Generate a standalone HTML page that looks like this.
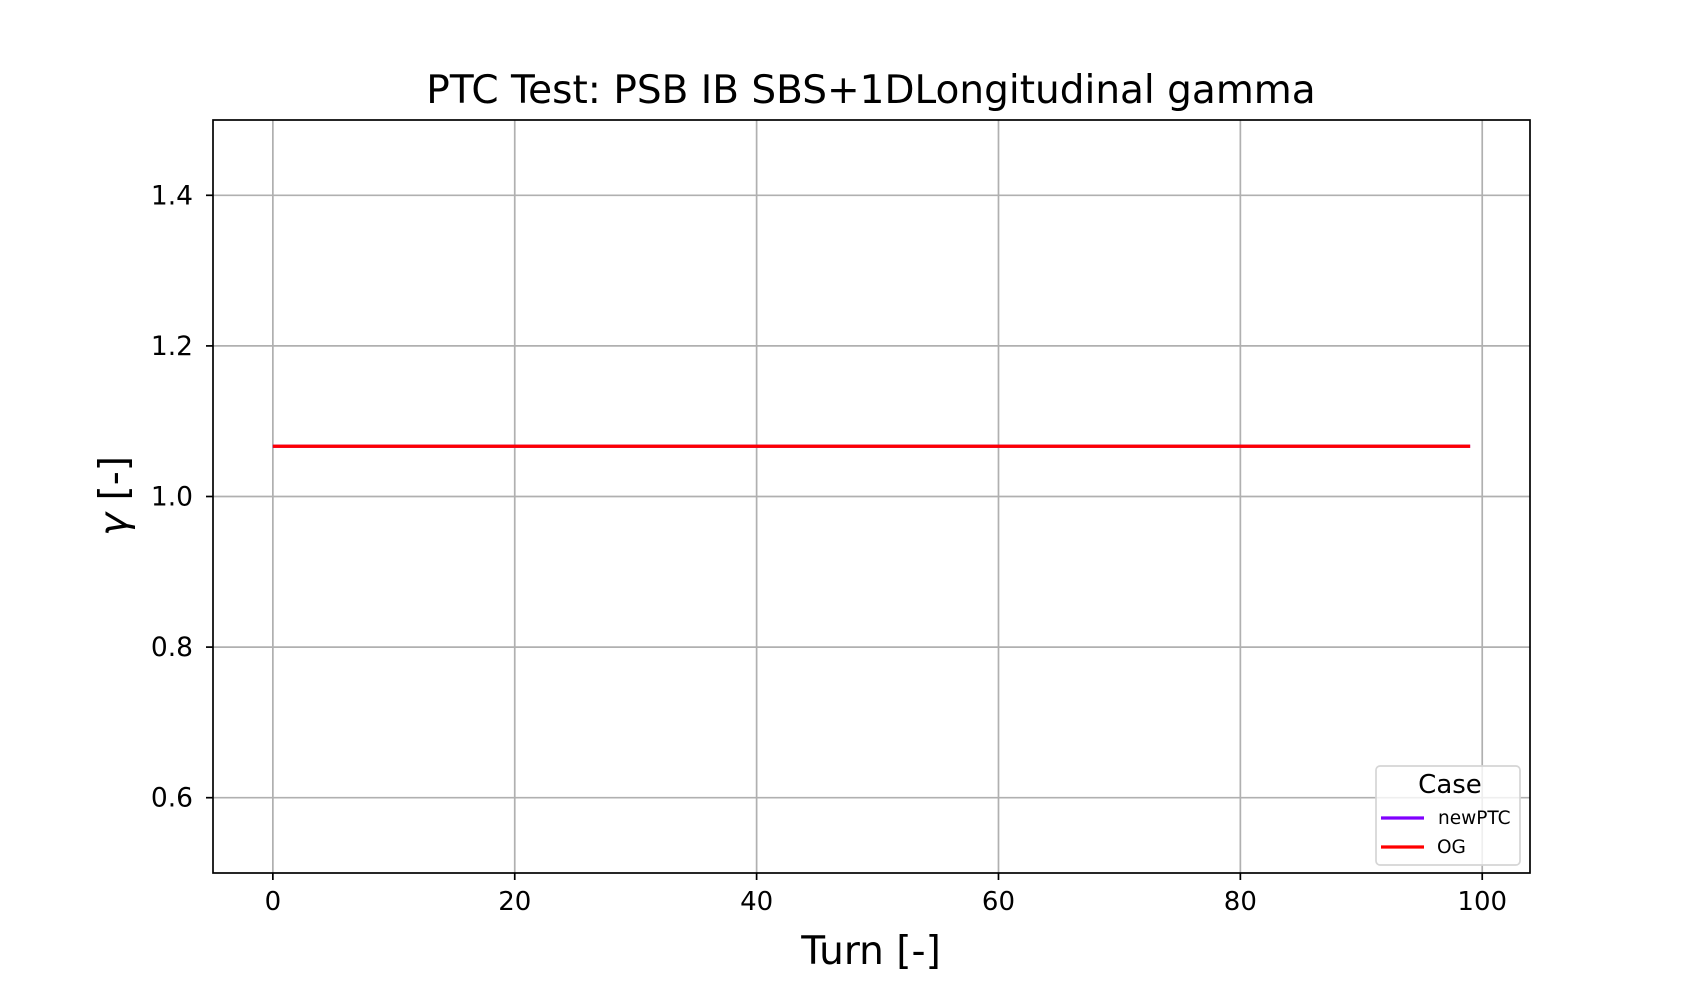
<!DOCTYPE html>
<html><head><meta charset="utf-8"><style>
html,body{margin:0;padding:0;background:#fff;width:1700px;height:1000px;overflow:hidden}
text{font-family:"DejaVu Sans","Liberation Sans",sans-serif}
</style></head><body>
<svg id="chart" width="1700" height="1000" xmlns="http://www.w3.org/2000/svg">
<rect width="1700" height="1000" fill="#fff"/>
<g id="grid"></g>
<g id="series"></g>
<rect x="213" y="120" width="1317" height="753" fill="none" stroke="#000" stroke-width="1.7"/>
<g id="ticks"></g>
<text x="871" y="103" font-size="39" text-anchor="middle">PTC Test: PSB IB SBS+1DLongitudinal gamma</text>
<text x="871" y="964" font-size="39" text-anchor="middle">Turn [-]</text>
<text transform="translate(127,496) rotate(-90)" font-size="39" text-anchor="middle"><tspan font-style="italic">γ</tspan> [-]</text>
<g>
<rect x="1376" y="766" width="144" height="99" rx="4" fill="#fff" fill-opacity="0.8" stroke="#d5d5d5" stroke-width="1.7"/>
<text x="1450" y="793" font-size="26" text-anchor="middle">Case</text>
<line x1="1381" y1="818" x2="1424" y2="818" stroke="#8000ff" stroke-width="3.2"/>
<text x="1438" y="824" font-size="18.5">newPTC</text>
<line x1="1381" y1="847" x2="1424" y2="847" stroke="#ff0000" stroke-width="3.2"/>
<text x="1437" y="853" font-size="18.5">OG</text>
</g>
</svg>
<script>
const turns = Array.from({length:100},(_,i)=>i);
const newPTC = turns.map(()=>1.0667);
const og = turns.map(()=>1.0667);
const xTicks = [0,20,40,60,80,100];
const yTicks = [0.6,0.8,1.0,1.2,1.4];
const yTickLabels = ["0.6","0.8","1.0","1.2","1.4"];
const L=213,R=1530,T=120,B=873,xMin=-4.95,xMax=103.95,yMin=0.5,yMax=1.5;
const sx=v=>L+(v-xMin)/(xMax-xMin)*(R-L);
const sy=v=>B-(v-yMin)/(yMax-yMin)*(B-T);
const NS="http://www.w3.org/2000/svg";
function mk(tag,attrs,parent){const e=document.createElementNS(NS,tag);for(const k in attrs)e.setAttribute(k,attrs[k]);parent.appendChild(e);return e;}
const grid=document.getElementById('grid'),ticks=document.getElementById('ticks'),series=document.getElementById('series');
xTicks.forEach(t=>{
  const x=sx(t);
  const g=mk('line',{x1:x,y1:T,x2:x,y2:B,stroke:'#b0b0b0','stroke-width':1.7},grid);
  
  
  const tk=mk('line',{x1:x,y1:B,x2:x,y2:B+7,stroke:'#000','stroke-width':1.7},ticks);
  
  
  const lb=mk('text',{x:x,y:B+37,'font-size':26,'text-anchor':'middle'},ticks);
  lb.textContent=String(t);
  
  
});
yTicks.forEach((t,i)=>{
  const y=sy(t);
  const g=mk('line',{x1:L,y1:y,x2:R,y2:y,stroke:'#b0b0b0','stroke-width':1.7},grid);
  
  
  const tk=mk('line',{x1:L-7,y1:y,x2:L,y2:y,stroke:'#000','stroke-width':1.7},ticks);
  
  
  const lb=mk('text',{x:L-20,y:y+9,'font-size':26.5,'text-anchor':'end'},ticks);
  lb.textContent=yTickLabels[i];
  
  
});
function path(xs,ys){return xs.map((x,i)=>(i?'L':'M')+sx(x).toFixed(2)+','+sy(ys[i]).toFixed(2)).join('');}
const p1=mk('path',{d:path(turns,newPTC),fill:'none',stroke:'#8000ff','stroke-width':3.2},series);


const p2=mk('path',{d:path(turns,og),fill:'none',stroke:'#ff0000','stroke-width':3.2},series);


</script>
</body></html>
